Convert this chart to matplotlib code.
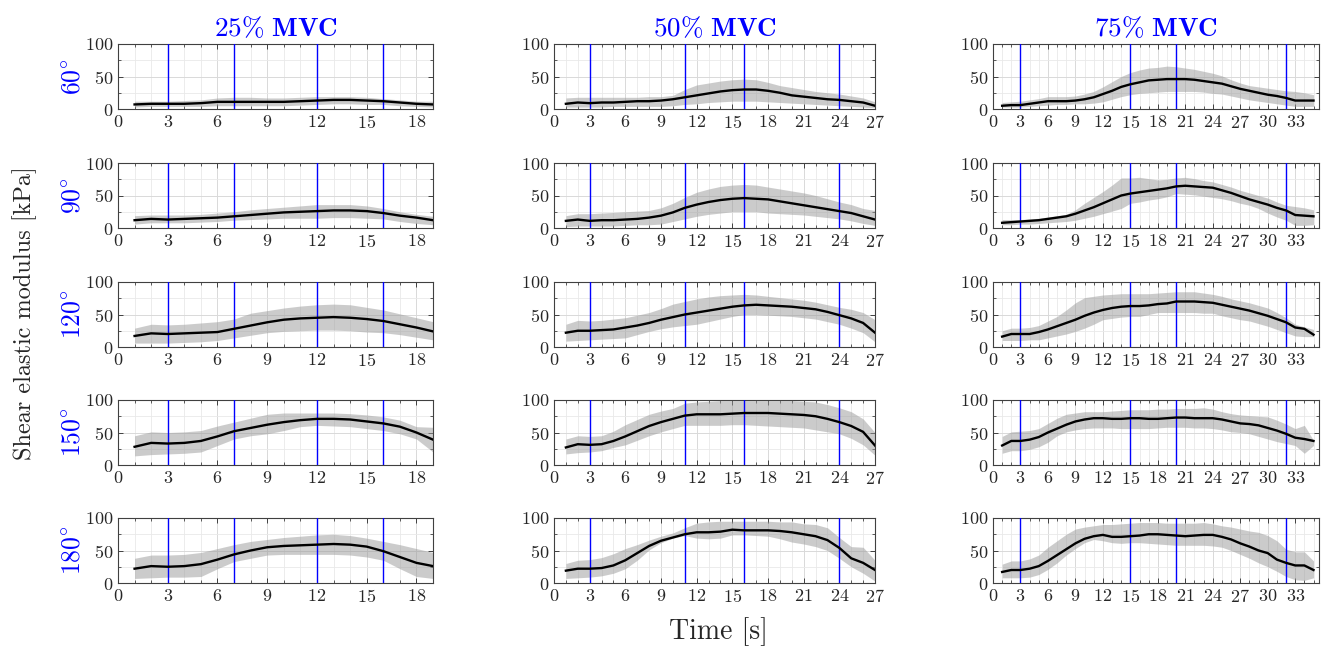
import numpy as np
import matplotlib
matplotlib.use("Agg")
import matplotlib.pyplot as plt
from matplotlib.ticker import MultipleLocator

plt.rcParams['font.family'] = ['cmr10', 'DejaVu Serif']
plt.rcParams['mathtext.fontset'] = 'cm'
plt.rcParams['axes.formatter.use_mathtext'] = True

# ---------------- data ----------------
mvc_labels = ["25", "50", "75"]
angle_labels = ["60", "90", "120", "150", "180"]
t_end = [19, 27, 35]
phase_lines = [[3, 7, 12, 16], [3, 11, 16, 24], [3, 15, 20, 32]]

# 25% MVC
m25_60 = [7, 8, 8, 8, 9, 11, 11, 11, 11, 11, 12, 13, 14, 14, 13, 12, 10, 8, 7]
hi25_60 = [12, 12, 12, 13, 14, 17, 18, 18, 17, 17, 18, 19, 19, 19, 18, 16, 14, 12, 12]
lo25_60 = [3, 4, 4, 4, 4, 5, 5, 5, 5, 5, 6, 7, 8, 8, 7, 7, 5, 4, 3]

m25_90 = [12, 14, 13, 14, 15, 16, 18, 20, 22, 24, 25, 26, 27, 27, 26, 23, 19, 16, 12]
hi25_90 = [19, 20, 20, 20, 21, 23, 25, 28, 30, 32, 34, 36, 36, 36, 34, 30, 25, 21, 18]
lo25_90 = [6, 8, 8, 8, 9, 10, 12, 13, 14, 15, 15, 15, 16, 16, 15, 14, 10, 7, 5]

m25_120 = [17, 21, 20, 21, 22, 23, 28, 33, 38, 42, 44, 45, 46, 45, 43, 40, 35, 30, 24]
hi25_120 = [29, 35, 34, 35, 37, 39, 43, 52, 56, 60, 63, 65, 66, 65, 61, 57, 51, 45, 39]
lo25_120 = [6, 6, 6, 7, 8, 10, 14, 18, 22, 24, 25, 26, 26, 25, 23, 22, 19, 15, 11]

m25_150 = [28, 34, 33, 34, 37, 44, 52, 57, 62, 66, 69, 71, 71, 70, 67, 64, 59, 50, 39]
hi25_150 = [45, 51, 50, 51, 53, 60, 66, 72, 78, 80, 80, 80, 80, 79, 77, 74, 69, 59, 58]
lo25_150 = [14, 16, 17, 18, 20, 30, 40, 45, 48, 53, 59, 61, 60, 59, 56, 53, 48, 40, 20]

m25_180 = [22, 26, 25, 26, 29, 36, 44, 50, 55, 57, 58, 59, 60, 59, 56, 49, 40, 31, 26]
hi25_180 = [38, 43, 43, 44, 47, 53, 59, 64, 67, 70, 72, 74, 75, 73, 69, 64, 59, 53, 47]
lo25_180 = [7, 8, 9, 9, 10, 22, 33, 38, 43, 44, 44, 44, 44, 43, 40, 35, 22, 10, 7]

# 50% MVC
m50_60 = [8, 10, 9, 10, 10, 11, 12, 12, 13, 15, 18, 21, 24, 27, 29, 30, 30, 28, 25, 21, 19, 17, 15, 14, 12, 10, 5]
hi50_60 = [17, 18, 18, 18, 18, 18, 18, 19, 19, 21, 30, 37, 40, 43, 45, 46, 45, 41, 36, 33, 30, 27, 25, 23, 20, 17, 11]
lo50_60 = [3, 3, 3, 3, 4, 4, 4, 4, 4, 5, 7, 8, 10, 11, 12, 12, 12, 11, 10, 9, 8, 7, 6, 5, 4, 3, 2]

m50_90 = [11, 13, 11, 12, 12, 13, 14, 16, 19, 24, 31, 36, 40, 43, 45, 46, 45, 44, 41, 38, 35, 32, 29, 26, 23, 18, 13]
hi50_90 = [19, 22, 22, 23, 24, 25, 26, 27, 31, 38, 47, 55, 60, 64, 66, 67, 66, 63, 60, 57, 54, 50, 45, 40, 36, 30, 27]
lo50_90 = [2, 3, 3, 3, 3, 4, 5, 5, 6, 10, 14, 18, 21, 23, 25, 25, 25, 23, 22, 21, 20, 18, 16, 14, 11, 7, 4]

m50_120 = [22, 25, 25, 26, 27, 30, 33, 37, 42, 46, 50, 53, 56, 59, 62, 64, 65, 64, 63, 62, 60, 58, 54, 49, 44, 37, 22]
hi50_120 = [35, 41, 40, 41, 43, 45, 49, 53, 59, 66, 70, 74, 77, 79, 80, 81, 80, 78, 76, 74, 72, 69, 65, 61, 58, 53, 42]
lo50_120 = [9, 10, 11, 12, 13, 14, 19, 24, 28, 31, 33, 35, 39, 43, 47, 50, 50, 49, 48, 47, 45, 43, 39, 35, 29, 22, 8]

m50_150 = [27, 32, 31, 32, 37, 44, 52, 60, 66, 71, 76, 78, 78, 78, 79, 80, 80, 80, 79, 78, 77, 75, 71, 66, 60, 51, 30]
hi50_150 = [40, 45, 44, 45, 52, 62, 70, 78, 83, 87, 95, 97, 98, 99, 99, 99, 99, 99, 99, 99, 98, 97, 93, 88, 82, 71, 50]
lo50_150 = [17, 19, 20, 22, 27, 31, 38, 45, 51, 56, 61, 61, 61, 61, 62, 62, 61, 60, 59, 58, 57, 54, 51, 48, 41, 31, 15]

m50_180 = [19, 22, 22, 23, 27, 35, 46, 57, 65, 70, 75, 78, 78, 79, 82, 81, 81, 81, 80, 78, 75, 72, 66, 54, 38, 31, 20]
hi50_180 = [30, 35, 36, 39, 45, 53, 59, 66, 72, 77, 85, 92, 94, 95, 95, 95, 95, 95, 94, 94, 91, 90, 85, 70, 56, 55, 35]
lo50_180 = [7, 8, 9, 11, 15, 22, 35, 51, 62, 69, 73, 69, 68, 69, 74, 74, 73, 72, 68, 63, 60, 56, 50, 38, 25, 15, 3]

# 75% MVC
m75_60 = [5, 6, 6, 8, 10, 12, 12, 12, 13, 15, 18, 23, 28, 34, 38, 41, 44, 45, 46, 46, 46, 45, 43, 41, 39, 35, 31, 28, 25, 22, 20, 17, 13, 13, 13]
hi75_60 = [10, 11, 12, 14, 16, 19, 19, 19, 20, 23, 27, 34, 42, 50, 56, 60, 63, 64, 66, 65, 63, 61, 58, 55, 51, 45, 40, 36, 34, 32, 30, 28, 27, 25, 22]
lo75_60 = [3, 3, 3, 4, 5, 6, 7, 7, 8, 8, 9, 11, 15, 19, 22, 24, 25, 26, 27, 27, 27, 27, 26, 24, 23, 20, 17, 14, 12, 10, 8, 6, 4, 4, 4]

m75_90 = [8, 9, 10, 11, 12, 14, 16, 18, 22, 27, 32, 38, 44, 50, 53, 55, 57, 59, 61, 64, 65, 64, 63, 62, 58, 54, 49, 44, 40, 36, 31, 27, 20, 19, 18]
hi75_90 = [13, 13, 13, 14, 15, 17, 19, 21, 28, 38, 47, 56, 66, 77, 77, 78, 76, 74, 75, 77, 78, 76, 73, 71, 67, 63, 58, 54, 50, 46, 40, 35, 33, 31, 28]
lo75_90 = [5, 5, 6, 6, 7, 8, 9, 10, 12, 15, 18, 22, 26, 30, 38, 40, 43, 45, 48, 53, 52, 51, 49, 47, 45, 42, 38, 35, 30, 23, 17, 12, 4, 4, 5]

m75_120 = [16, 20, 20, 20, 23, 27, 32, 37, 42, 48, 53, 57, 60, 62, 63, 63, 64, 66, 67, 70, 70, 70, 69, 68, 65, 62, 59, 56, 52, 48, 43, 38, 30, 28, 19]
hi75_120 = [25, 29, 29, 30, 33, 40, 47, 57, 68, 76, 78, 80, 81, 82, 82, 82, 82, 83, 84, 85, 85, 85, 83, 81, 78, 74, 71, 68, 64, 60, 53, 45, 35, 31, 27]
lo75_120 = [10, 10, 10, 11, 11, 14, 17, 20, 24, 29, 35, 42, 44, 46, 47, 47, 50, 53, 53, 53, 53, 53, 52, 52, 48, 45, 42, 40, 36, 32, 27, 22, 17, 16, 16]

m75_150 = [30, 37, 37, 39, 43, 50, 56, 62, 67, 70, 72, 72, 71, 71, 72, 72, 71, 71, 72, 73, 73, 72, 72, 72, 70, 67, 64, 63, 61, 57, 53, 48, 42, 40, 37]
hi75_150 = [44, 51, 52, 53, 56, 64, 72, 78, 80, 82, 82, 82, 83, 84, 85, 85, 85, 86, 86, 87, 87, 87, 88, 86, 82, 79, 77, 76, 75, 74, 69, 63, 56, 61, 38]
lo75_150 = [18, 22, 22, 24, 28, 35, 45, 51, 54, 56, 57, 57, 57, 56, 56, 56, 56, 57, 58, 58, 58, 57, 57, 56, 54, 51, 50, 48, 44, 40, 36, 33, 30, 18, 30]

m75_180 = [17, 20, 20, 22, 26, 34, 43, 52, 61, 68, 72, 74, 71, 71, 72, 73, 75, 75, 74, 73, 72, 73, 74, 74, 71, 67, 61, 56, 50, 46, 36, 31, 27, 27, 20]
hi75_180 = [29, 34, 34, 37, 43, 55, 65, 75, 83, 86, 88, 90, 90, 91, 92, 93, 93, 93, 92, 92, 92, 92, 93, 91, 88, 86, 83, 80, 78, 73, 65, 52, 48, 48, 34]
lo75_180 = [8, 8, 8, 9, 13, 21, 31, 43, 53, 62, 67, 65, 62, 61, 62, 62, 61, 60, 59, 58, 58, 58, 58, 57, 55, 50, 44, 38, 31, 25, 18, 10, 5, 4, 8]

means = [[m25_60, m25_90, m25_120, m25_150, m25_180],
         [m50_60, m50_90, m50_120, m50_150, m50_180],
         [m75_60, m75_90, m75_120, m75_150, m75_180]]
uppers = [[hi25_60, hi25_90, hi25_120, hi25_150, hi25_180],
          [hi50_60, hi50_90, hi50_120, hi50_150, hi50_180],
          [hi75_60, hi75_90, hi75_120, hi75_150, hi75_180]]
lowers = [[lo25_60, lo25_90, lo25_120, lo25_150, lo25_180],
          [lo50_60, lo50_90, lo50_120, lo50_150, lo50_180],
          [lo75_60, lo75_90, lo75_120, lo75_150, lo75_180]]

# ---------------- figure ----------------
W, H = 1328, 649
fig = plt.figure(figsize=(W / 100, H / 100), dpi=100)

col_left = [118, 554, 993]
col_width = [315, 321, 326]
col_xmax = [19, 27, 35.6]
row_top = [44, 163, 282, 400, 518]
row_h = 65
axcol = '#404040'

for c in range(3):
    t = np.arange(1, t_end[c] + 1)
    for r in range(5):
        ax = fig.add_axes([col_left[c] / W, 1 - (row_top[r] + row_h) / H,
                           col_width[c] / W, row_h / H])
        ax.fill_between(t, lowers[c][r], uppers[c][r], color='#999999',
                        alpha=0.5, linewidth=0, zorder=2)
        ax.plot(t, means[c][r], color='black', lw=1.7, zorder=4)
        for v in phase_lines[c]:
            ax.axvline(v, color='blue', lw=1.0, zorder=3)
        ax.set_xlim(0, col_xmax[c])
        ax.set_ylim(0, 100)
        ax.xaxis.set_major_locator(MultipleLocator(3))
        ax.xaxis.set_minor_locator(MultipleLocator(1))
        ax.yaxis.set_major_locator(MultipleLocator(50))
        ax.yaxis.set_minor_locator(MultipleLocator(25))
        ax.grid(which='major', color='#d9d9d9', lw=0.7, zorder=0)
        ax.grid(which='minor', color='#e9e9e9', lw=0.6, zorder=0)
        ax.set_axisbelow(True)
        ax.tick_params(which='both', direction='in', top=True, right=True,
                       colors=axcol, labelcolor='#262626', labelsize=13)
        ax.tick_params(which='major', length=3.5, width=0.7)
        ax.tick_params(which='minor', length=2, width=0.6)
        for s in ax.spines.values():
            s.set_color(axcol)
            s.set_linewidth(0.8)
        if r == 0:
            ax.set_title(r'$\mathbf{' + mvc_labels[c] + r'\%\ MVC}$',
                         color='blue', fontsize=19.5, pad=6)
        if c == 0:
            ax.text(-0.145, 0.5, r'$\mathbf{' + angle_labels[r] + r'^{\circ}}$',
                    transform=ax.transAxes, rotation=90, color='blue',
                    fontsize=18.5, ha='center', va='center')

fig.text(25 / W, 1 - 313 / H, 'Shear elastic modulus [kPa]', rotation=90,
         ha='center', va='center', fontsize=17.5, color='#262626')
fig.text(718 / W, 1 - 632 / H, 'Time [s]', ha='center', va='center',
         fontsize=20, color='#262626')

fig.savefig('out.png', dpi=100)
